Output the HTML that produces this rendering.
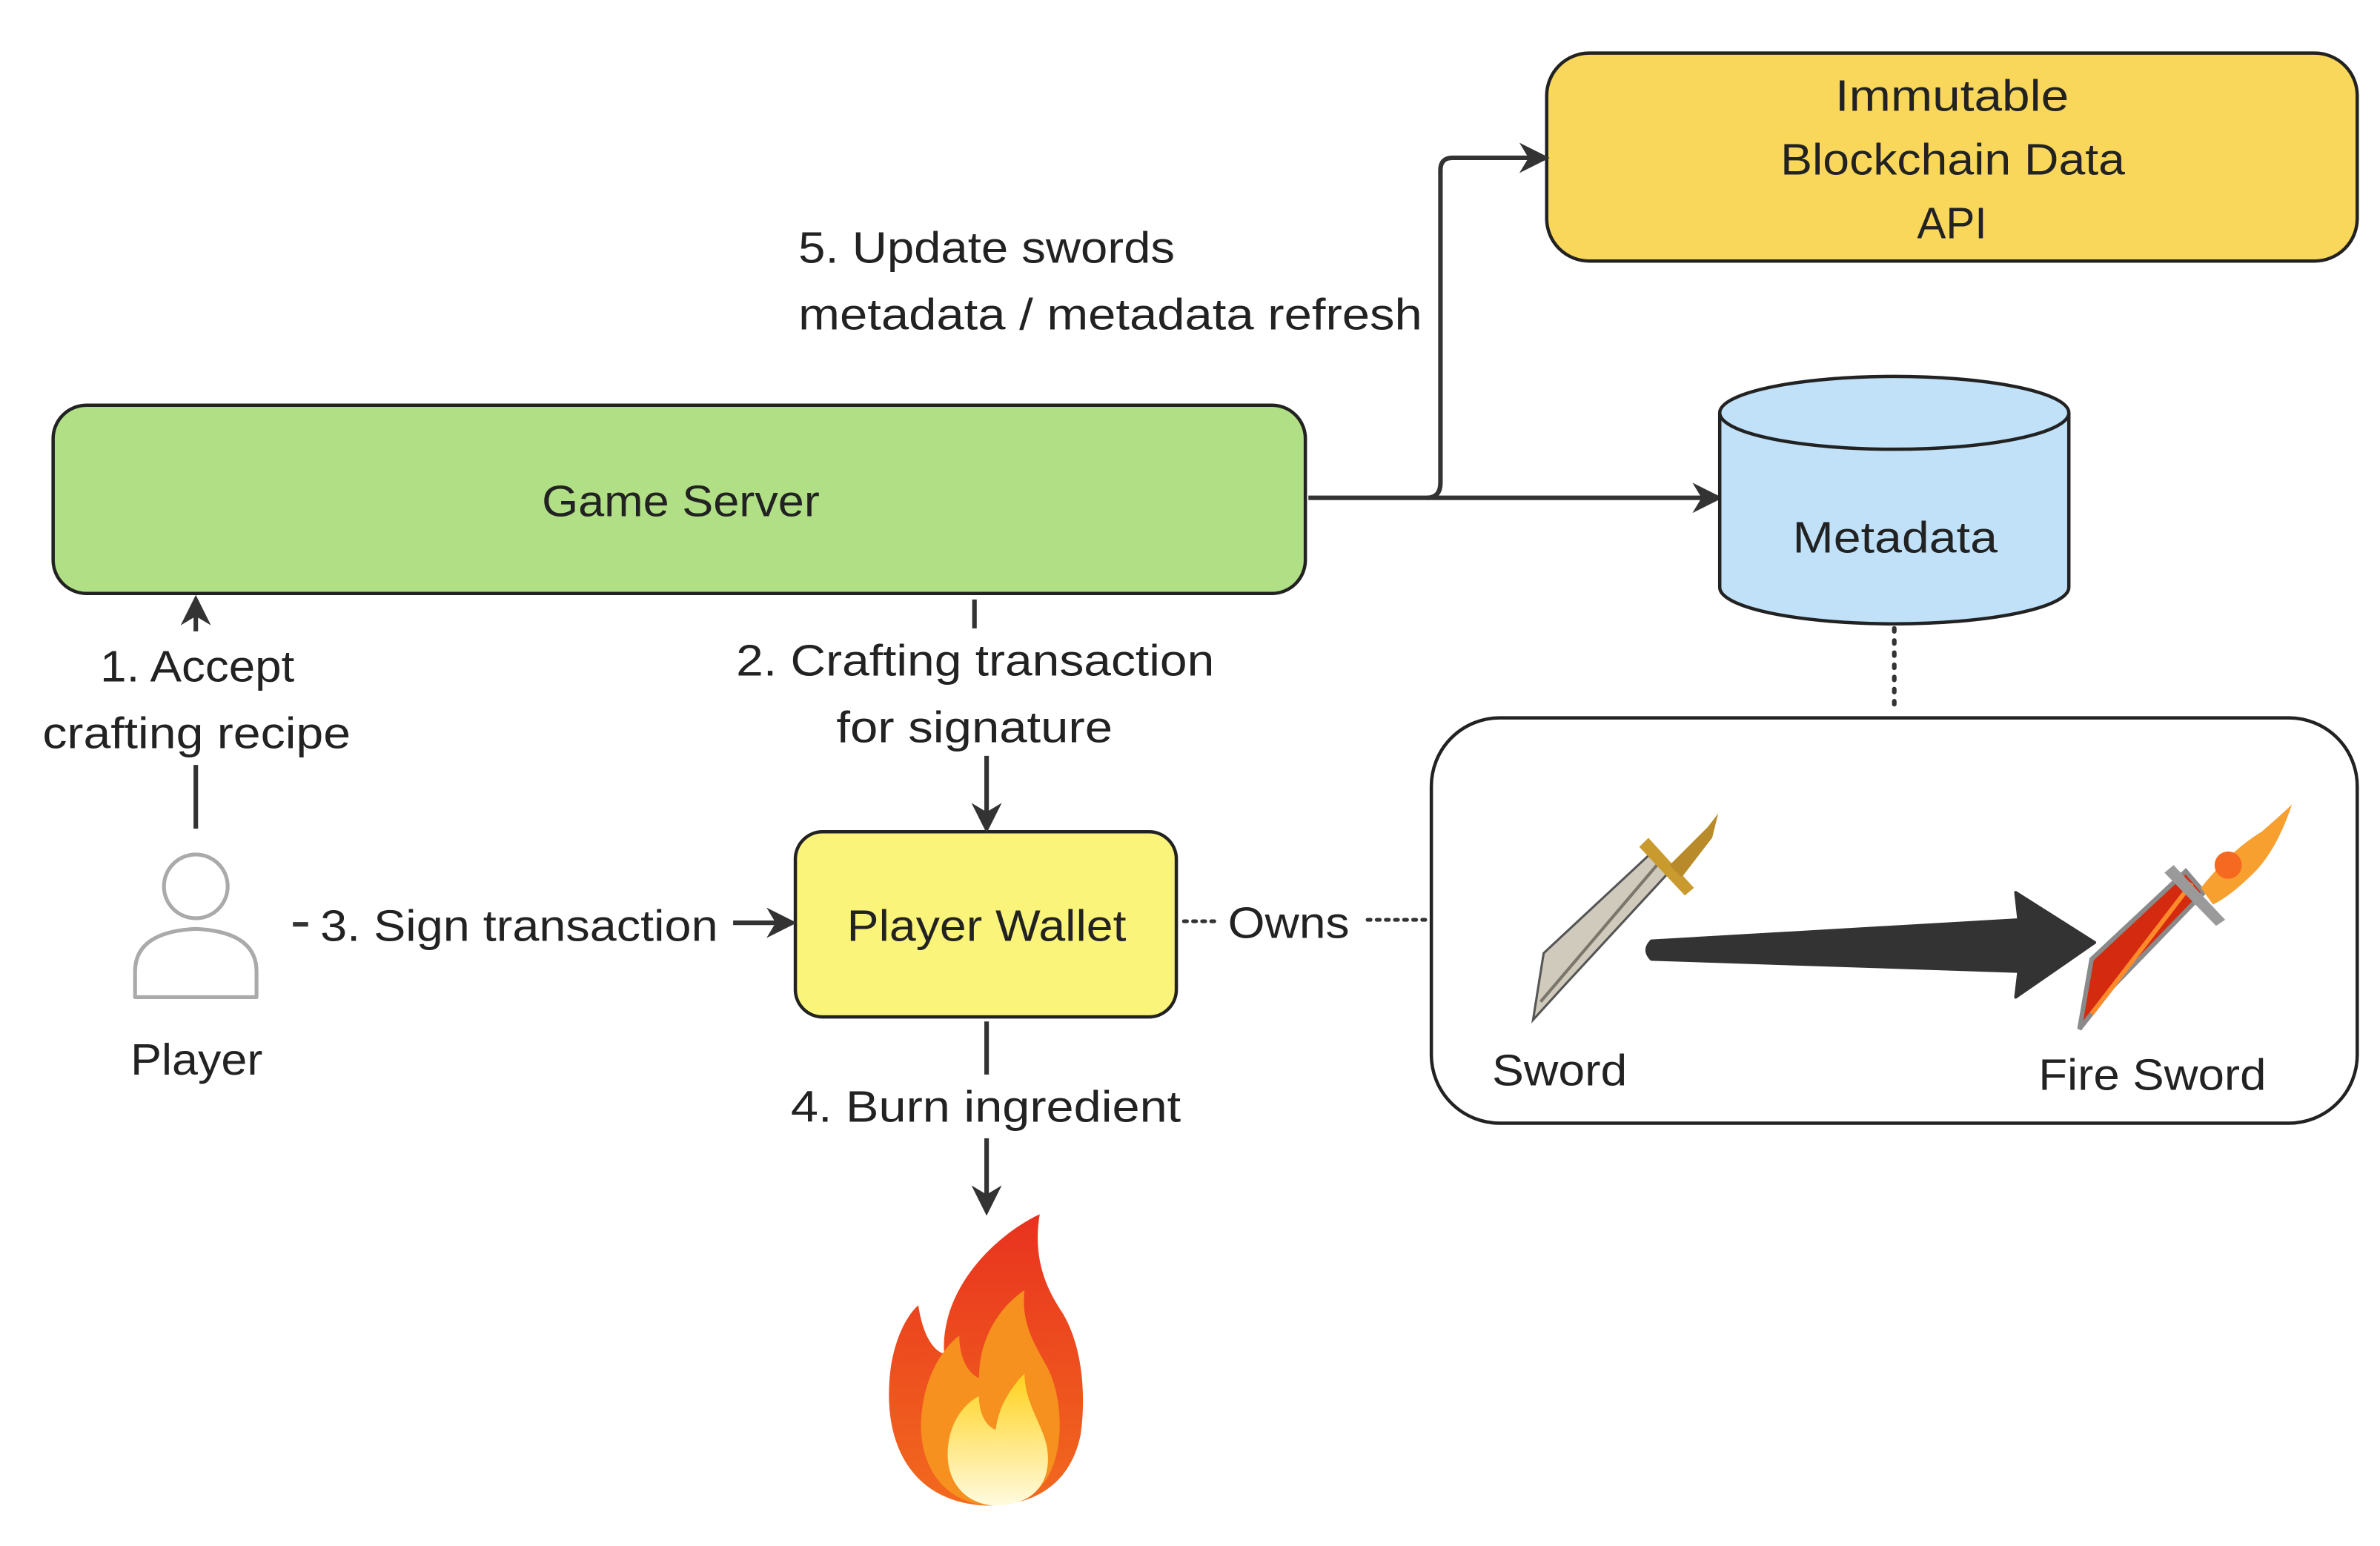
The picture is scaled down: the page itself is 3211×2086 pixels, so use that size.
<!DOCTYPE html>
<html><head><meta charset="utf-8"><style>
html,body{margin:0;padding:0;background:#fff;}
svg{display:block;}
text{font-family:"Liberation Sans",sans-serif;fill:#222;font-size:29px;}
</style></head><body>
<svg width="3211" height="2086" viewBox="0 0 1568 1018.6" preserveAspectRatio="none" xmlns="http://www.w3.org/2000/svg">
<defs>
<marker id="ah" viewBox="0 0 10 10" refX="8" refY="5" markerWidth="7" markerHeight="7" markerUnits="userSpaceOnUse" orient="auto"><path d="M0,0 L10,5 L0,10 L3,5 z" fill="#333"/></marker>
<marker id="ah2" viewBox="0 0 10 10" refX="8" refY="5" markerWidth="20" markerHeight="20" markerUnits="userSpaceOnUse" orient="auto"><path d="M0,0 L10,5 L0,10 L3,5 z" fill="#333"/></marker>
<linearGradient id="fo" x1="0" y1="0" x2="0" y2="1"><stop offset="0" stop-color="#e8321f"/><stop offset="1" stop-color="#f26a1e"/></linearGradient>
<linearGradient id="fy" x1="0" y1="0" x2="0" y2="1"><stop offset="0" stop-color="#ffd21c"/><stop offset="1" stop-color="#fffbe0"/></linearGradient>
</defs>
<rect width="1568" height="1019" fill="#fff"/>

<rect x="1019" y="35" width="534" height="137" rx="28" fill="#f8d75b" stroke="#222" stroke-width="2.2"/>
<text x="1209" y="63" dominant-baseline="central" textLength="154" lengthAdjust="spacingAndGlyphs">Immutable</text>
<text x="1173" y="105" dominant-baseline="central" textLength="227" lengthAdjust="spacingAndGlyphs">Blockchain Data</text>
<text x="1263" y="147" dominant-baseline="central" textLength="46" lengthAdjust="spacingAndGlyphs">API</text>

<text x="526" y="163" dominant-baseline="central" textLength="248" lengthAdjust="spacingAndGlyphs">5. Update swords</text>
<text x="526" y="207" dominant-baseline="central" textLength="411" lengthAdjust="spacingAndGlyphs">metadata / metadata refresh</text>

<rect x="35" y="267" width="825" height="124" rx="22" fill="#b1df86" stroke="#222" stroke-width="2.2"/>
<text x="357" y="330" dominant-baseline="central" textLength="183" lengthAdjust="spacingAndGlyphs">Game Server</text>

<path d="M862,328 L1131,328" stroke="#333" stroke-width="3" fill="none" marker-end="url(#ah2)"/>
<path d="M940,328 Q949,328 949,318 L949,112 Q949,104 957,104 L1017,104" stroke="#333" stroke-width="3" fill="none" marker-end="url(#ah2)"/>

<path d="M1133,272 L1133,387 A115,24 0 0 0 1363,387 L1363,272" fill="#c0e1f7" stroke="#222" stroke-width="2.2"/>
<ellipse cx="1248" cy="272" rx="115" ry="24" fill="#c0e1f7" stroke="#222" stroke-width="2.2"/>
<text x="1181" y="354" dominant-baseline="central" textLength="135" lengthAdjust="spacingAndGlyphs">Metadata</text>
<path d="M1248,414 L1248,470" stroke="#333" stroke-width="3" stroke-dasharray="2,6" stroke-linecap="round"/>

<rect x="943" y="473" width="610" height="267" rx="45" fill="#fff" stroke="#222" stroke-width="2.2"/>

<g>
<polygon points="1010,672 1017,628 1090,560 1102,572 1030,650" fill="#cfcabb" stroke="#555" stroke-width="1.5"/>
<line x1="1015" y1="660" x2="1095" y2="566" stroke="#7a766b" stroke-width="2"/>
<polygon points="1086,552 1116,585 1110,590 1080,558" fill="#c99a2e"/>
<polygon points="1100,570 1125,545 1132,536 1128,552 1108,578" fill="#b88a2a"/>
</g>
<g>
<polygon points="1370,678 1378,632 1440,574 1452,588 1392,650" fill="#d32a10" stroke="#8a8a8a" stroke-width="3"/>
<line x1="1378" y1="668" x2="1444" y2="582" stroke="#ff8a2a" stroke-width="3"/>
<polygon points="1432,570 1466,606 1460,610 1426,575" fill="#9a9a9a"/>
<path d="M1450,585 Q1470,560 1490,548 Q1505,535 1510,530 Q1500,560 1485,575 Q1470,590 1458,596 z" fill="#f7a030"/>
<circle cx="1468" cy="570" r="9" fill="#f56a20"/>
</g>
<path d="M1088,620 L1330,606 L1328,588 L1380,621 L1328,657 L1330,640 L1088,632 Q1082,626 1088,620 z" fill="#333" stroke="#333" stroke-width="2" stroke-linejoin="round"/>
<text x="983" y="705" dominant-baseline="central" textLength="89" lengthAdjust="spacingAndGlyphs">Sword</text>
<text x="1343" y="708" dominant-baseline="central" textLength="150" lengthAdjust="spacingAndGlyphs">Fire Sword</text>

<rect x="524" y="548" width="251" height="122" rx="18" fill="#fbf47a" stroke="#222" stroke-width="2.2"/>
<text x="558" y="610" dominant-baseline="central" textLength="184" lengthAdjust="spacingAndGlyphs">Player Wallet</text>

<path d="M780,607 L800,607" stroke="#333" stroke-width="2.5" stroke-dasharray="2,4" stroke-linecap="round"/>
<text x="809" y="608" dominant-baseline="central" textLength="80" lengthAdjust="spacingAndGlyphs">Owns</text>
<path d="M901,606 L940,606" stroke="#333" stroke-width="2.5" stroke-dasharray="2,4" stroke-linecap="round"/>

<path d="M642,395 L642,414" stroke="#333" stroke-width="3"/>
<text x="485" y="435" dominant-baseline="central" textLength="315" lengthAdjust="spacingAndGlyphs">2. Crafting transaction</text>
<text x="551" y="479" dominant-baseline="central" textLength="182" lengthAdjust="spacingAndGlyphs">for signature</text>
<path d="M650,498 L650,545" stroke="#333" stroke-width="3" marker-end="url(#ah2)"/>

<path d="M129,546 L129,504" stroke="#333" stroke-width="3"/>
<path d="M129,416 L129,396" stroke="#333" stroke-width="3" marker-end="url(#ah2)"/>
<text x="66" y="439" dominant-baseline="central" textLength="128" lengthAdjust="spacingAndGlyphs">1. Accept</text>
<text x="28" y="483" dominant-baseline="central" textLength="203" lengthAdjust="spacingAndGlyphs">crafting recipe</text>

<circle cx="129" cy="584" r="21" fill="#fff" stroke="#aaa" stroke-width="2.5"/>
<path d="M89,657 L89,640 Q89,614 129,612 Q169,614 169,640 L169,657 Z" fill="#fff" stroke="#aaa" stroke-width="2.5" stroke-linejoin="round"/>
<text x="86" y="698" dominant-baseline="central" textLength="87" lengthAdjust="spacingAndGlyphs">Player</text>

<path d="M193,609 L203,609" stroke="#333" stroke-width="3"/>
<text x="211" y="610" dominant-baseline="central" textLength="262" lengthAdjust="spacingAndGlyphs">3. Sign transaction</text>
<path d="M483,608 L521,608" stroke="#333" stroke-width="3" marker-end="url(#ah2)"/>

<path d="M650,673 L650,708" stroke="#333" stroke-width="3"/>
<text x="521" y="729" dominant-baseline="central" textLength="257" lengthAdjust="spacingAndGlyphs">4. Burn ingredient</text>
<path d="M650,750 L650,797" stroke="#333" stroke-width="3" marker-end="url(#ah2)"/>

<path d="M650,992 C600,990 580,950 587,900 C592,870 605,860 605,860 C608,880 615,890 622,892 C620,860 640,830 668,810 C678,803 685,800 685,800 C680,830 690,850 700,865 C712,885 716,915 712,945 C706,975 685,992 650,992 z" fill="url(#fo)"/>
<path d="M652,992 C618,990 602,960 608,925 C612,900 625,885 632,880 C632,895 638,905 645,908 C645,880 660,860 675,850 C672,875 685,890 692,905 C702,930 700,965 685,980 C675,989 665,992 652,992 z" fill="#f6901e"/>
<path d="M655,992 C630,990 620,968 626,945 C630,930 640,922 645,920 C645,932 650,940 656,942 C658,925 668,912 675,905 C675,925 688,940 690,955 C693,978 680,992 655,992 z" fill="url(#fy)"/>
</svg>
</body></html>
